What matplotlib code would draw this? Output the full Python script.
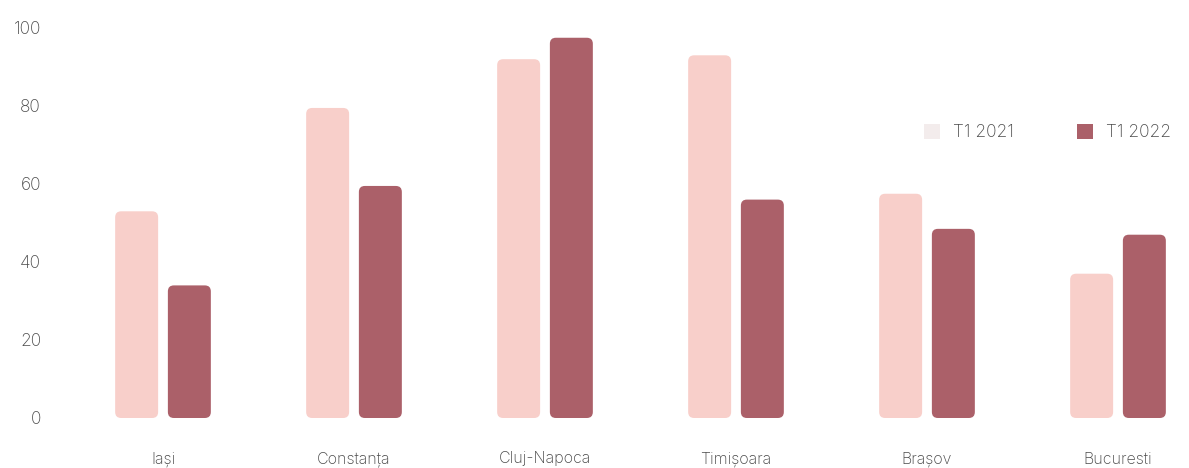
import matplotlib
matplotlib.use('Agg')
import matplotlib.pyplot as plt
from matplotlib.patches import FancyBboxPatch, Patch
import numpy as np

cities = ['Iași', 'Constanța', 'Cluj-Napoca', 'Timișoara', 'Brașov', 'Bucuresti']
t1_2021 = [53, 79.5, 92, 93, 57.5, 37]
t1_2022 = [34, 59.5, 97.5, 56, 48.5, 47]
series_names = ['T1 2021', 'T1 2022']
yticks = [0, 20, 40, 60, 80, 100]

col_2021 = '#f8cfca'
col_2022 = '#ab6069'
txt_col = '#4a4a4a'

plt.rcParams['font.family'] = ['Inter', 'DejaVu Sans']

fig = plt.figure(figsize=(11.89, 4.68), dpi=100)
# axes in pixels: x 55..1185, y 28 (=100) .. 418 (=0)
ax = fig.add_axes([55 / 1189, 50 / 468, 1130 / 1189, 390 / 468])
x_per_px = 1 / 191
ax.set_xlim(-108 * x_per_px, 1022 * x_per_px)
ax.set_ylim(0, 100)

x = np.arange(len(cities))
width = 0.225
off = 0.138
b1 = ax.bar(x - off, t1_2021, width, color=col_2021)
b2 = ax.bar(x + off, t1_2022, width, color=col_2022)

# swap bars for rounded ones
aspect = (100 / 390) / x_per_px
for bars in (b1, b2):
    for p in bars:
        p.set_visible(False)
        rp = FancyBboxPatch((p.get_x(), p.get_y()), p.get_width(), p.get_height(),
                            boxstyle='round,pad=0,rounding_size=%f' % (6 * x_per_px),
                            mutation_aspect=aspect, facecolor=p.get_facecolor(),
                            edgecolor='none', clip_on=False)
        ax.add_patch(rp)

for s in ax.spines.values():
    s.set_visible(False)
ax.set_xticks(x)
ax.set_xticklabels(cities, fontsize=11.5, color=txt_col, fontweight='light')
ax.set_yticks(yticks)
ax.set_yticklabels([str(v) for v in yticks], fontsize=12.5, color=txt_col, fontweight='light')
ax.tick_params(length=0)
ax.tick_params(axis='x', pad=24)
ax.tick_params(axis='y', pad=10)

handles = [Patch(facecolor='#f3ecec', edgecolor='none'), Patch(facecolor=col_2022, edgecolor='none')]
leg = ax.legend(handles, series_names, loc='upper left', bbox_to_anchor=(0.755, 0.795), ncol=2,
                frameon=False, fontsize=12.5, handlelength=0.95, handleheight=0.95,
                columnspacing=3.6, handletextpad=0.75)
for t in leg.get_texts():
    t.set_color(txt_col)
    t.set_fontweight('light')

plt.savefig('out.png', dpi=100)
